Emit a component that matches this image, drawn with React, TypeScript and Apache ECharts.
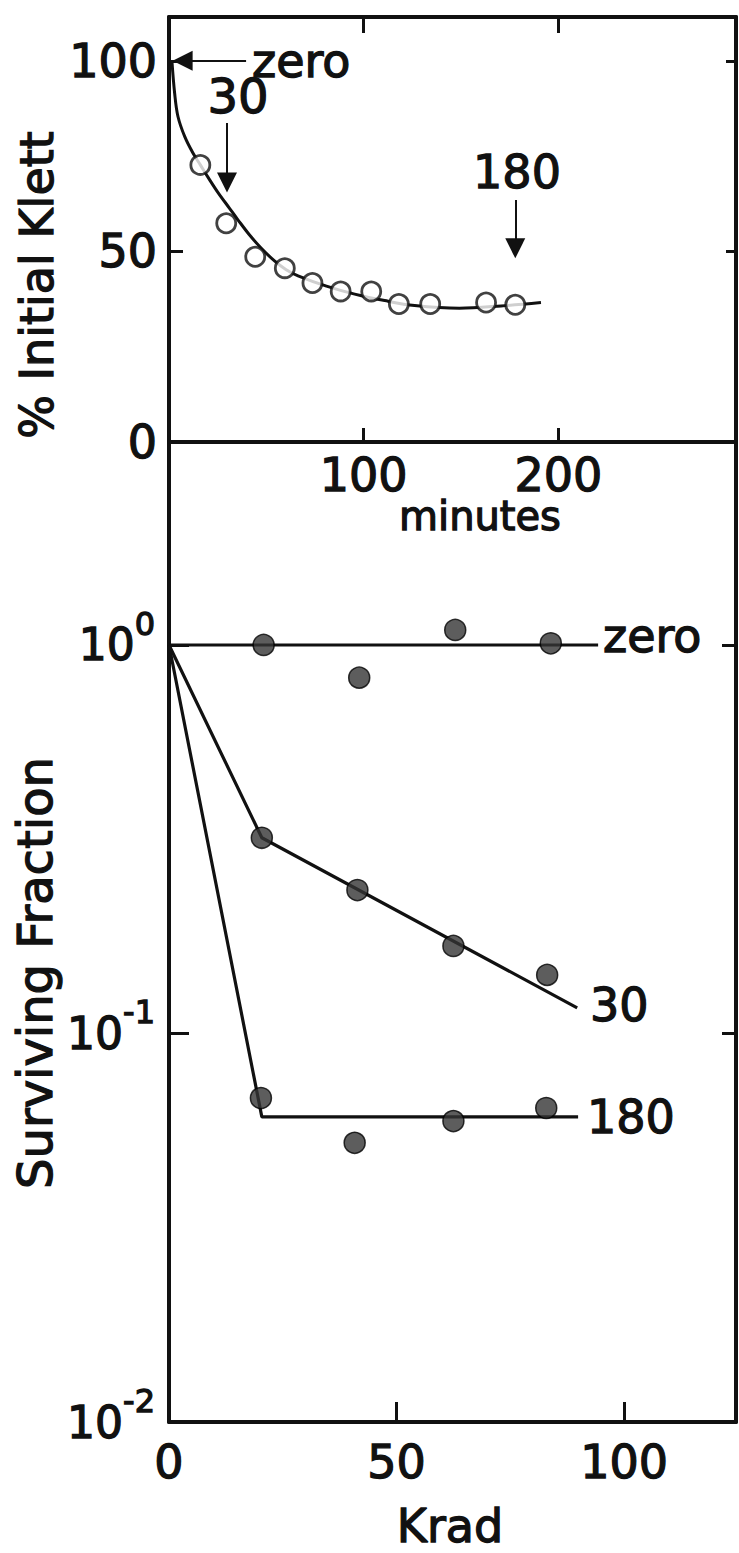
import React, { useEffect, useRef } from 'react';
import * as echarts from 'echarts';

const FONT = '"DejaVu Sans", sans-serif';
const INK = '#111111';
const HEAVY = 1.3;

// ---- Top panel: % initial Klett vs minutes ----
const klettMinutes = [16.1, 29.4, 44.3, 59.5, 73.7, 88.2, 103.9, 118.1, 134.2, 162.9, 177.9];
const klettPercent = [72.7, 57.4, 48.6, 45.6, 41.7, 39.5, 39.5, 36.2, 36.2, 36.6, 36.0];
const curveMinutes = [1.5, 2.9, 4.6, 8.1, 12.3, 16.1, 20, 25.1, 31.1, 35.4, 41.4, 47.3, 54.2, 60.2, 66.3, 80.9, 95.4, 110.8, 126.2, 149.2, 170.6, 191.1];
const curvePercent = [100, 91.5, 85.4, 80.1, 75.8, 72.7, 69.5, 65.5, 61.3, 58.3, 54.3, 50.9, 47.5, 45.2, 43.6, 40.9, 38.8, 37.1, 35.8, 35.1, 35.7, 36.6];
const minuteTickLabels = [100, 200];
const klettTickLabels = [0, 50, 100];

// arrows (minutes, %): [from, to]
const arrowZero = [[39.6, 100], [7, 100]];
const arrow30 = [[29.8, 83.7], [29.8, 68.1]];
const arrow180 = [[177.9, 63.5], [177.9, 50.8]];

// ---- Bottom panel: surviving fraction vs Krad ----
const zeroDose = [20.8, 41.8, 62.9, 83.9];
const zeroSurv = [1.0, 0.824, 1.093, 1.01];
const zeroFitDose = [0, 94.3];
const zeroFitSurv = [1, 1];
const dose30 = [20.4, 41.4, 62.5, 83.1];
const surv30 = [0.319, 0.234, 0.168, 0.1415];
const fit30Dose = [0, 20.4, 89.7];
const fit30Surv = [1, 0.319, 0.1164];
const dose180 = [20.2, 40.8, 62.5, 82.9];
const surv180 = [0.0682, 0.0523, 0.0595, 0.0643];
const fit180Dose = [0, 20.4, 89.9];
const fit180Surv = [1, 0.061, 0.061];
const kradTickLabels = [0, 50, 100];

const zip = (a: number[], b: number[]) => a.map((v, i) => [v, b[i]]);

const axisLineStyle = { show: true, onZero: false, lineStyle: { color: INK, width: 4 } };
const tickStyle = (len: number) => ({ show: true, inside: true, length: len, lineStyle: { color: INK, width: 3 } });

const txt = (text: string, x: number, y: number, size: number, align: string, rotation = 0, lineHeight?: number) => ({
  type: 'text', x, y, rotation,
  style: {
    text, fontFamily: FONT, fontSize: size, fill: INK, stroke: INK, lineWidth: HEAVY,
    align, verticalAlign: 'middle', lineHeight: lineHeight || size,
  },
});

export default function App() {
  const ref = useRef<HTMLDivElement>(null);
  useEffect(() => {
    if (!ref.current) return;
    const chart = echarts.init(ref.current, null, { renderer: 'svg' });
    const labelFont = {
      fontFamily: FONT, fontSize: 46, color: INK, lineHeight: 40,
      textBorderColor: INK, textBorderWidth: HEAVY,
    };
    const option: any = {
      animation: false,
      backgroundColor: '#ffffff',
      textStyle: { fontFamily: FONT },
      grid: [
        { left: 169, top: 17, width: 568, height: 425 },
        { left: 169, top: 442, width: 568, height: 980 },
      ],
      xAxis: [
        {
          gridIndex: 0, type: 'value', position: 'bottom', min: 0, max: 291.3, interval: 100,
          axisLine: axisLineStyle, axisTick: tickStyle(14), splitLine: { show: false },
          axisLabel: { ...labelFont, margin: 13, formatter: (v: number) => (minuteTickLabels.includes(v) ? String(v) : '') },
        },
        {
          gridIndex: 0, type: 'value', position: 'top', min: 0, max: 291.3, interval: 100,
          axisLine: axisLineStyle, axisTick: tickStyle(16), splitLine: { show: false }, axisLabel: { show: false },
        },
        {
          gridIndex: 1, type: 'value', position: 'bottom', min: 0, max: 124.6, interval: 50,
          axisLine: axisLineStyle, axisTick: tickStyle(20), splitLine: { show: false },
          axisLabel: { ...labelFont, margin: 20, formatter: (v: number) => (kradTickLabels.includes(v) ? String(v) : '') },
        },
      ],
      yAxis: [
        {
          gridIndex: 0, type: 'value', position: 'left', min: 0, max: 111.5, interval: 50,
          axisLine: axisLineStyle, axisTick: tickStyle(14), splitLine: { show: false },
          axisLabel: { ...labelFont, margin: 12, formatter: (v: number) => (klettTickLabels.includes(v) ? String(v) : '') },
        },
        {
          gridIndex: 0, type: 'value', position: 'right', min: 0, max: 111.5, interval: 50,
          axisLine: axisLineStyle, axisTick: tickStyle(10), splitLine: { show: false }, axisLabel: { show: false },
        },
        {
          gridIndex: 1, type: 'log', logBase: 10, position: 'left', min: 0.01, max: 3.33,
          axisLine: axisLineStyle, axisTick: tickStyle(20), splitLine: { show: false },
          axisLabel: {
            margin: 14,
            formatter: (v: number) => {
              const e = Math.log10(v);
              if (Math.abs(e - Math.round(e)) > 1e-6) return '';
              return `{a|10}{b|${Math.round(e)}}`;
            },
            rich: {
              a: { fontFamily: FONT, fontSize: 44, color: INK, lineHeight: 74, verticalAlign: 'middle', textBorderColor: INK, textBorderWidth: HEAVY },
              b: { fontFamily: FONT, fontSize: 32, color: INK, lineHeight: 30, verticalAlign: 'top', textBorderColor: INK, textBorderWidth: HEAVY },
            },
          },
        },
        {
          gridIndex: 1, type: 'log', logBase: 10, position: 'right', min: 0.01, max: 3.33,
          axisLine: axisLineStyle, axisTick: tickStyle(14), splitLine: { show: false }, axisLabel: { show: false },
        },
      ],
      series: [
        {
          type: 'line', xAxisIndex: 0, yAxisIndex: 0, data: zip(curveMinutes, curvePercent),
          smooth: 0.35, symbol: 'none', lineStyle: { color: INK, width: 3 }, z: 2, silent: true,
        },
        {
          type: 'scatter', xAxisIndex: 0, yAxisIndex: 0, data: zip(klettMinutes, klettPercent),
          symbol: 'circle', symbolSize: 19, z: 3, silent: true,
          itemStyle: { color: '#ffffff', borderColor: INK, borderWidth: 2.8 },
          markLine: {
            silent: true, symbol: ['none', 'triangle'], symbolSize: [20, 20],
            label: { show: false }, lineStyle: { color: INK, width: 2, type: 'solid' },
            emphasis: { disabled: true },
            data: [arrowZero, arrow30, arrow180].map((a) => [{ coord: a[0] }, { coord: a[1] }]),
          },
        },
        {
          type: 'line', xAxisIndex: 2, yAxisIndex: 2, data: zip(zeroFitDose, zeroFitSurv),
          symbol: 'none', lineStyle: { color: INK, width: 3.2 }, z: 2, silent: true,
        },
        {
          type: 'line', xAxisIndex: 2, yAxisIndex: 2, data: zip(fit30Dose, fit30Surv),
          symbol: 'none', lineStyle: { color: INK, width: 3.2 }, z: 2, silent: true,
        },
        {
          type: 'line', xAxisIndex: 2, yAxisIndex: 2, data: zip(fit180Dose, fit180Surv),
          symbol: 'none', lineStyle: { color: INK, width: 3.2 }, z: 2, silent: true,
        },
        ...[zip(zeroDose, zeroSurv), zip(dose30, surv30), zip(dose180, surv180)].map((d) => ({
          type: 'scatter', xAxisIndex: 2, yAxisIndex: 2, data: d, symbol: 'circle', symbolSize: 21, z: 3, silent: true,
          itemStyle: { color: '#353535', borderColor: '#000000', borderWidth: 1.5 },
        })),
      ],
      graphic: [
        txt('% Initial Klett', 37, 285, 46, 'center', Math.PI / 2),
        txt('minutes', 480, 516, 40, 'center', 0, 32),
        txt('Surviving Fraction', 35, 973, 48, 'center', Math.PI / 2),
        txt('Krad', 450, 1526, 46, 'center'),
        txt('zero', 252, 61, 46, 'left'),
        txt('30', 238, 96, 48, 'center'),
        txt('180', 517, 172, 46, 'center'),
        txt('zero', 603, 636, 46, 'left'),
        txt('30', 590, 1005, 46, 'left'),
        txt('180', 587, 1117, 46, 'left'),
      ],
    };
    chart.setOption(option);
    return () => chart.dispose();
  }, []);
  return <div ref={ref} style={{ position: 'absolute', left: 0, top: 0, width: 739, height: 1553 }} />;
}
